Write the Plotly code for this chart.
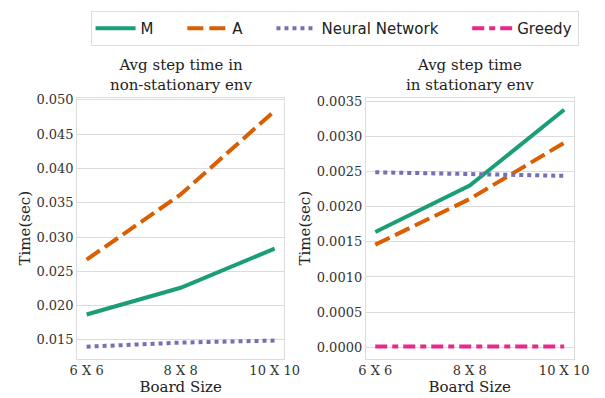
import plotly.graph_objects as go

boards = ["6 X 6", "8 X 8", "10 X 10"]
xpos = [0, 1, 2]

# Non-stationary env (left)
ns_M = [0.0187, 0.0226, 0.0283]
ns_A = [0.0267, 0.0362, 0.0484]
ns_NN = [0.0140, 0.0146, 0.0149]

# Stationary env (right)
st_M = [0.00164, 0.00230, 0.00338]
st_A = [0.00146, 0.00211, 0.00291]
st_NN = [0.00249, 0.00246, 0.00244]
st_G = [0.00001, 0.00001, 0.00001]

left_ticks = [0.015, 0.020, 0.025, 0.030, 0.035, 0.040, 0.045, 0.050]
right_ticks = [0.0, 0.0005, 0.0010, 0.0015, 0.0020, 0.0025, 0.0030, 0.0035]

NB = "\u00a0"
names = {"M": "M" + NB * 5, "A": "A" + NB * 5, "NN": "Neural Network" + NB * 5, "G": "Greedy"}

C = {"M": "#1b9e77", "A": "#d95f02", "NN": "#7570b3", "G": "#e7298a"}
DASH = {"M": "solid", "A": "16px,6px", "NN": "4px,4px", "G": "12px,5px,6px,5px"}
LW = 4

fig = go.Figure()

def add(y, key, xa, ya, show):
    fig.add_trace(go.Scatter(
        x=xpos, y=y, mode="lines", name=names[key],
        line=dict(color=C[key], width=LW, dash=DASH[key]),
        xaxis=xa, yaxis=ya, showlegend=show, legendgroup=key))

add(ns_M, "M", "x", "y", True)
add(ns_A, "A", "x", "y", True)
add(ns_NN, "NN", "x", "y", True)
add(st_M, "M", "x2", "y2", False)
add(st_A, "A", "x2", "y2", False)
add(st_NN, "NN", "x2", "y2", False)
add(st_G, "G", "x2", "y2", True)

W, H = 605, 398
serif = "DejaVu Serif"
grid = "#dcdcdc"
tickfont = dict(family=serif, size=13, color="#333333")
titlefont = dict(family=serif, size=15, color="#222222")

def xax(domain, anchor):
    return dict(domain=domain, anchor=anchor, range=[-0.1, 2.1],
                tickvals=xpos, ticktext=boards, showgrid=False,
                showline=True, linecolor=grid, mirror=True, linewidth=1,
                zeroline=False, ticks="", tickfont=tickfont,
                title=dict(text="Board Size", font=titlefont, standoff=4))

def yax(domain, anchor, rng, ticks, fmt):
    return dict(domain=domain, anchor=anchor, range=rng, tickvals=ticks,
                ticktext=[fmt.format(t) for t in ticks],
                showgrid=True, gridcolor=grid, gridwidth=1,
                showline=True, linecolor=grid, mirror=True, linewidth=1,
                zeroline=False, ticks="", tickfont=tickfont,
                title=dict(text="Time(sec)", font=titlefont, standoff=2))

ydom = [40 / H, 1 - 94 / H]
fig.update_layout(
    width=W, height=H,
    margin=dict(l=0, r=0, t=0, b=0),
    paper_bgcolor="white", plot_bgcolor="white",
    xaxis=xax([73 / W, 288 / W], "y"),
    yaxis=yax(ydom, "x", [0.01228, 0.0503], left_ticks, "{:.3f}"),
    xaxis2=xax([373 / W, 589 / W], "y2"),
    yaxis2=yax(ydom, "x2", [-0.00016, 0.00355], right_ticks, "{:.4f}"),
    legend=dict(orientation="h", x=340.5 / W, xanchor="center", y=1 - 6 / H, yanchor="top",
                bordercolor="#dddddd", borderwidth=1,
                font=dict(family="DejaVu Sans", size=15, color="#222222"),
                itemwidth=40, tracegroupgap=0),
    annotations=[
        dict(text="Avg step time in<br>non-stationary env", x=180.5 / W, y=1 - 92 / H,
             xref="paper", yref="paper", xanchor="center", yanchor="bottom",
             showarrow=False, font=dict(family=serif, size=15, color="#222222")),
        dict(text="Avg step time<br>in stationary env", x=481 / W, y=1 - 92 / H,
             xref="paper", yref="paper", xanchor="center", yanchor="bottom",
             showarrow=False, font=dict(family=serif, size=15, color="#222222")),
    ],
)

fig.write_html("out.html")
